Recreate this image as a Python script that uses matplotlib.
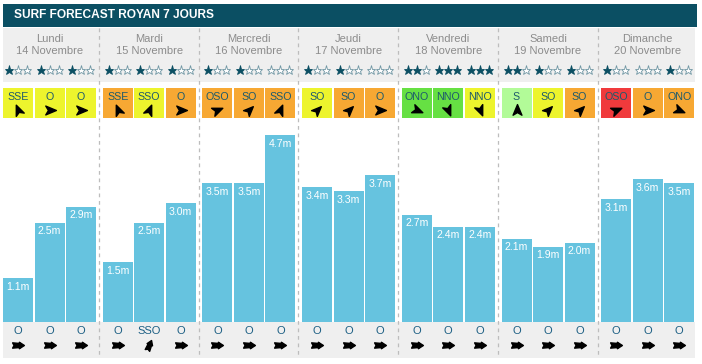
import numpy as np
import matplotlib
matplotlib.use("Agg")
import matplotlib.pyplot as plt
from matplotlib.patches import Rectangle
from matplotlib.path import Path

# --- donnees ---
JOURS = ["Lundi", "Mardi", "Mercredi", "Jeudi", "Vendredi", "Samedi", "Dimanche"]
DATES = ["14 Novembre", "15 Novembre", "16 Novembre", "17 Novembre",
         "18 Novembre", "19 Novembre", "20 Novembre"]

HAUTEURS = [
    [1.1, 2.5, 2.9],
    [1.5, 2.5, 3.0],
    [3.5, 3.5, 4.7],
    [3.4, 3.3, 3.7],
    [2.7, 2.4, 2.4],
    [2.1, 1.9, 2.0],
    [3.1, 3.6, 3.5],
]
ETOILES = [
    [1, 1, 1],
    [1, 1, 1],
    [1, 1, 0],
    [1, 1, 0],
    [2, 3, 3],
    [2, 1, 1],
    [1, 0, 1],
]
VENT_DIR = [
    ["SSE", "O", "O"],
    ["SSE", "SSO", "O"],
    ["OSO", "SO", "SSO"],
    ["SO", "SO", "O"],
    ["ONO", "NNO", "NNO"],
    ["S", "SO", "SO"],
    ["OSO", "O", "ONO"],
]
VENT_NIVEAU = [
    ["jaune", "jaune", "jaune"],
    ["orange", "jaune", "orange"],
    ["orange", "orange", "orange"],
    ["jaune", "orange", "orange"],
    ["vert", "vert", "jaune"],
    ["vert_clair", "jaune", "orange"],
    ["rouge", "orange", "orange"],
]
HOULE_DIR = [
    ["O", "O", "O"],
    ["O", "SSO", "O"],
    ["O", "O", "O"],
    ["O", "O", "O"],
    ["O", "O", "O"],
    ["O", "O", "O"],
    ["O", "O", "O"],
]

COULEURS_VENT = {
    "jaune": "#edf42d",
    "orange": "#f7a833",
    "vert": "#66e043",
    "vert_clair": "#b2fb98",
    "rouge": "#f03a3c",
}
CAP = {"N": 0, "NNE": 22.5, "NE": 45, "ENE": 67.5, "E": 90, "ESE": 112.5,
       "SE": 135, "SSE": 157.5, "S": 180, "SSO": 202.5, "SO": 225,
       "OSO": 247.5, "O": 270, "ONO": 292.5, "NO": 315, "NNO": 337.5}

TEAL = "#0b4f63"
BARRE = "#66c3df"
GRIS = "#efefef"
FONT = "Liberation Sans"

# --- mise en page (pixels) ---
W, H = 702, 364
X0, PAS_JOUR, PAS_SLOT, LARG = 3.0, 99.7, 31.5, 30.0
Y_BAS = 322
PX_PAR_M = 39.7
Y_HAUT_BARRES = 100


def fleche(cap, forme):
    a = np.deg2rad(90 - (cap + 180))
    rot = np.array([[np.cos(a), -np.sin(a)], [np.sin(a), np.cos(a)]])
    v = np.array(forme) @ rot.T
    v = np.vstack([v, v[:1]])
    codes = [Path.MOVETO] + [Path.LINETO] * (len(v) - 2) + [Path.CLOSEPOLY]
    return Path(v, codes)


FORME_VENT = [(1, 0), (-0.8, 0.75), (-0.35, 0), (-0.8, -0.75)]
FORME_HOULE = [(1, 0), (0.15, 0.55), (0.15, 0.35), (-1, 0.45),
               (-0.75, 0), (-1, -0.45), (0.15, -0.35), (0.15, -0.55)]

fig = plt.figure(figsize=(W / 100, H / 100), dpi=100)
ax = fig.add_axes([0, 0, 1, 1])
ax.set_xlim(0, W)
ax.set_ylim(H, 0)
ax.axis("off")

x_droite = X0 + 7 * PAS_JOUR - 6

# bandeau titre
ax.add_patch(Rectangle((3, 4), 694, 23, color="#0b4f63", lw=0))
ax.text(14, 15.5, "SURF FORECAST ROYAN 7 JOURS", color="white", fontsize=8.6,
        fontweight="bold", family=FONT, va="center", ha="left")

# fonds gris
ax.add_patch(Rectangle((3, 28), x_droite - 3, 54, color=GRIS, lw=0))
ax.add_patch(Rectangle((3, Y_BAS), x_droite - 3, 36, color=GRIS, lw=0))

# separateurs
for d in range(1, 7):
    xs = X0 + d * PAS_JOUR - 3.7
    ax.plot([xs, xs], [28, 358], color="#bdbdbd", lw=0.9,
            ls=(0, (3, 3)), zorder=1)

for d in range(7):
    xc_jour = X0 + d * PAS_JOUR + (2 * PAS_SLOT + LARG) / 2
    ax.text(xc_jour, 39, JOURS[d], color="#8c8c8c", fontsize=8,
            family=FONT, ha="center", va="center")
    ax.text(xc_jour, 51, DATES[d], color="#8c8c8c", fontsize=8,
            family=FONT, ha="center", va="center")
    for s in range(3):
        xl = X0 + d * PAS_JOUR + s * PAS_SLOT
        xc = xl + LARG / 2
        # etoiles
        for k in range(3):
            plein = k < ETOILES[d][s]
            ax.plot(xc + (k - 1) * 9, 70, marker="*", ms=6.8,
                    mfc=TEAL if plein else "white",
                    mec=TEAL if plein else "#6f96a3", mew=0.6)
        # vent
        ax.add_patch(Rectangle((xl, 88), LARG, 30,
                               color=COULEURS_VENT[VENT_NIVEAU[d][s]], lw=0))
        ax.text(xc, 97.5, VENT_DIR[d][s], color="#1d5a6c", fontsize=7.7,
                family=FONT, ha="center", va="center")
        ax.plot(xc, 110, marker=fleche(CAP[VENT_DIR[d][s]], FORME_VENT),
                ms=8.5, color="black", lw=0)
        # houle
        ax.text(xc, 330.5, HOULE_DIR[d][s], color="#1c5f84", fontsize=8,
                family=FONT, ha="center", va="center")
        ax.plot(xc, 345, marker=fleche(CAP[HOULE_DIR[d][s]], FORME_HOULE),
                ms=8.5, color="black", lw=0)

# barres de hauteur de vagues
axb = fig.add_axes([0, (H - Y_BAS) / H, 1, (Y_BAS - Y_HAUT_BARRES) / H])
axb.set_xlim(0, W)
axb.set_ylim(0, (Y_BAS - Y_HAUT_BARRES) / PX_PAR_M)
axb.axis("off")
axb.patch.set_alpha(0)

xs, hs = [], []
for d in range(7):
    for s in range(3):
        xs.append(X0 + d * PAS_JOUR + s * PAS_SLOT + LARG / 2)
        hs.append(HAUTEURS[d][s])
axb.bar(xs, hs, width=LARG, color=BARRE, lw=0)
for x, h in zip(xs, hs):
    axb.annotate(f"{h:.1f}m", (x, h), xytext=(0, -6.2),
                 textcoords="offset points", ha="center", va="center",
                 color="white", fontsize=7.6, family=FONT)

fig.savefig("out.png", dpi=100)
